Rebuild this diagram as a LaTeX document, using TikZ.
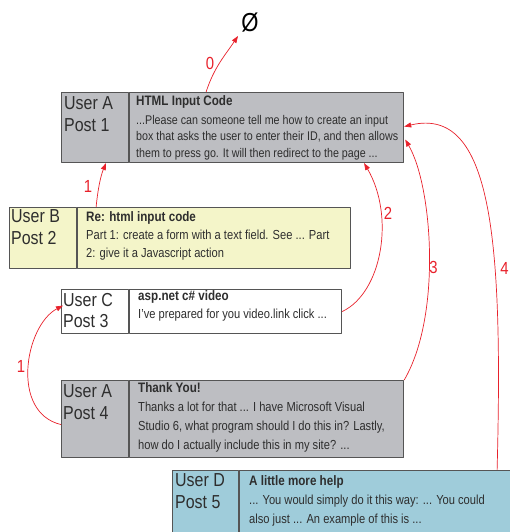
\documentclass[tikz,border=0pt]{standalone}
\usepackage{fontspec}
\setmainfont{Liberation Sans}[FakeStretch=0.85]
\usetikzlibrary{arrows.meta,calc,positioning}

\definecolor{postgray}{HTML}{BDBEC2}
\definecolor{postyellow}{HTML}{F4F5C9}
\definecolor{postblue}{HTML}{9FCCDA}
\definecolor{boxline}{HTML}{555555}
\definecolor{inkgray}{HTML}{2E2E2E}
\definecolor{replyred}{HTML}{E8212B}

\newcommand{\posttitle}[1]{{\bfseries\fontsize{13.7}{18.6}\selectfont #1}}

\begin{document}
\begin{tikzpicture}[x=1pt,y=-1pt,>={Triangle[length=7pt,width=5pt]},line join=round,
  cell/.style={draw=boxline,line width=1.1pt,anchor=north west,inner sep=0pt,minimum height=#1},
  usertext/.style={anchor=north west,align=left,inner sep=0pt,text=inkgray,
    font=\fontsize{18.8}{22}\selectfont},
  bodytext/.style={anchor=north west,align=left,inner sep=0pt,text=inkgray,
    font=\fontsize{13.1}{18.8}\selectfont},
  reply/.style={draw=replyred,line width=0.7pt,->},
  replynum/.style={text=replyred,font=\fontsize{17.5}{17.5}\selectfont}]
  \useasboundingbox (0,0) rectangle (510,532);
  \clip (0,0) rectangle (510,532);

  % ---------- post 1 ----------
  \node[cell=70,fill=postgray,minimum width=67] (u1) at (61,92) {};
  \node[cell=70,fill=postgray,minimum width=274,right=0pt of u1] (t1) {};
  \node[usertext] (n1) at (64,96.5) {User A\\Post 1};
  \node[bodytext,font=\fontsize{12.6}{16.6}\selectfont] (b1) at (136,95)
    {\posttitle{HTML Input Code}\\[2.3pt]
     ...Please can someone tell me how to create an input\\
     box that asks the user to enter their ID, and then allows\\
     them to press go. It will then redirect to the page ...};

  % ---------- post 2 ----------
  \node[cell=61,fill=postyellow,minimum width=67] (u2) at (9,207) {};
  \node[cell=61,fill=postyellow,minimum width=273,right=0pt of u2] (t2) {};
  \node[usertext] (n2) at (11,209.5) {User B\\Post 2};
  \node[bodytext,font=\fontsize{13.1}{18.4}\selectfont] (b2) at (86,211)
    {\posttitle{Re: html input code}\\
     Part 1: create a form with a text field. See ... Part\\
     2: give it a Javascript action};

  % ---------- post 3 ----------
  \node[cell=44,fill=white,minimum width=67] (u3) at (61,289) {};
  \node[cell=44,fill=white,minimum width=212,right=0pt of u3] (t3) {};
  \node[usertext,font=\fontsize{18.8}{21}\selectfont] (n3) at (63,293.5) {User C\\Post 3};
  \node[bodytext,font=\fontsize{13.1}{18}\selectfont] (b3) at (138,290.5)
    {\posttitle{asp.net c\# video}\\
     I've prepared for you video.link click ...};

  % ---------- post 4 ----------
  \node[cell=77,fill=postgray,minimum width=67] (u4) at (61,380) {};
  \node[cell=77,fill=postgray,minimum width=274,right=0pt of u4] (t4) {};
  \node[usertext] (n4) at (63,384.5) {User A\\Post 4};
  \node[bodytext,font=\fontsize{13.1}{19}\selectfont] (b4) at (138,382.5)
    {\posttitle{Thank You!}\\
     Thanks a lot for that ... I have Microsoft Visual\\
     Studio 6, what program should I do this in? Lastly,\\
     how do I actually include this in my site? ...};

  % ---------- post 5 ----------
  \node[cell=70,fill=postblue,minimum width=66] (u5) at (172,470) {};
  \node[cell=70,fill=postblue,minimum width=320,right=0pt of u5] (t5) {};
  \node[usertext] (n5) at (175,473.5) {User D\\Post 5};
  \node[bodytext,font=\fontsize{13.1}{19}\selectfont] (b5) at (249,475.5)
    {\posttitle{A little more help}\\
     ... You would simply do it this way: ... You could\\
     also just ... An example of this is ...};

  % ---------- empty parent ----------
  \node[text=black,font=\fontsize{26}{26}\selectfont] (phi) at (250,23) {Ø};

  % ---------- reply links ----------
  \draw[reply] ($(t1.north west)+(77,0)$)
    .. controls +(8,-25) and +(-12,18) .. ($(phi)+(-12,13)$);
  \node[replynum] (l0) at (210,63) {0};

  \draw[reply] ($(t2.north west)+(19,0)$)
    .. controls +(2,-20) and +(-5,12) .. ($(u1.south west)+(45,0)$);
  \node[replynum] (l1) at (88,186) {1};

  \draw[reply] (t3.east)
    .. controls +(40,-19) and +(31,53) .. ($(t1.south west)+(235,0)$);
  \node[replynum] (l2) at (388,213) {2};

  \draw[reply] (t4.north east)
    .. controls +(38,-65) and +(27,46) .. ($(t1.east)+(1,12)$);
  \node[replynum] (l3) at (433.5,267) {3};

  \draw[reply] ($(t5.north west)+(258,0)$)
    .. controls +(6,-230) and +(88,-21) .. ($(t1.east)+(0,-1)$);
  \node[replynum] (l4) at (504.5,268) {4};

  \draw[reply] ($(u4.west)+(0,5.5)$)
    .. controls +(-51,-12) and +(-38,20) .. ($(u3.west)+(2,-6)$);
  \node[replynum] (l5) at (21,366) {1};
\end{tikzpicture}
\end{document}
